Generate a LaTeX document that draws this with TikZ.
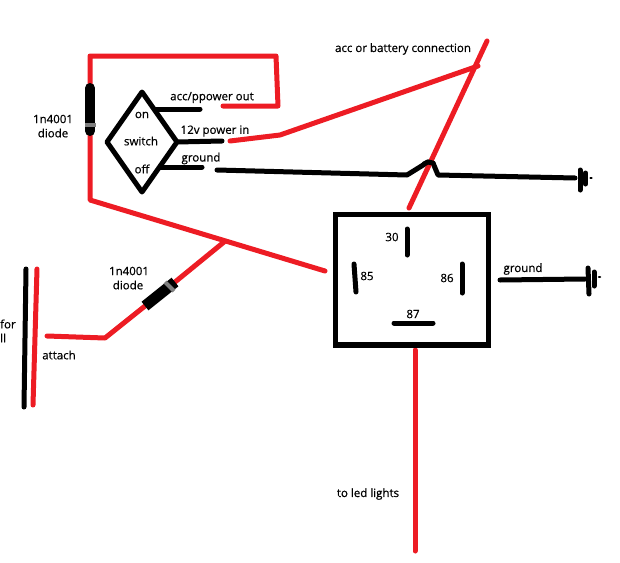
\documentclass[tikz,border=0pt]{standalone}
\usepackage{fontspec}
\setmainfont{Open Sans}[FakeBold=0.6]
\definecolor{wirered}{RGB}{237,28,36}
\definecolor{bandgrey}{RGB}{127,127,127}
\tikzset{
  redwire/.style={draw=wirered,line width=5pt,line cap=round,line join=round},
  blackwire/.style={draw=black,line width=5pt,line cap=round,line join=round},
  frame/.style={draw=black,line width=5.5pt,line cap=round,line join=miter},
  diodebody/.style={draw=black,line width=10pt,line cap=round},
  diodeband/.style={draw=bandgrey,line width=4pt},
  lbl/.style={font=\fontsize{11.5pt}{13pt}\selectfont,inner sep=0pt,text=black}
}
\begin{document}
\begin{tikzpicture}[x=1pt,y=-1pt]
\useasboundingbox (0,0) rectangle (620,562);
% junction and corner points
\coordinate (dtopA) at (90,88);
\coordinate (dbotA) at (90,131);
\coordinate (bandA1) at (85,125);
\coordinate (bandA2) at (96,125);
\coordinate (tl) at (90,56);
\coordinate (tr) at (276,56);
\coordinate (trb) at (278,106);
\coordinate (onend) at (223,106);
\coordinate (blw) at (90,200);
\coordinate (coil) at (325,271);
\coordinate (tee) at (224,242);
\coordinate (dtopB) at (175,282);
\coordinate (dbotB) at (145,306);
\coordinate (bandB1) at (165,282);
\coordinate (bandB2) at (174,291);
\coordinate (bend) at (105,338);
\coordinate (att) at (47,336);
\coordinate (sT) at (142,92);
\coordinate (sR) at (177,142);
\coordinate (sB) at (142,192);
\coordinate (sL) at (107,142);
\coordinate (onA) at (155,109);
\coordinate (onB) at (200,109);
\coordinate (inB) at (222,141);
\coordinate (offA) at (160,167);
\coordinate (offB) at (202,167);
\coordinate (pwrA) at (230,141);
\coordinate (pwrB) at (280,135);
\coordinate (bat) at (478,66);
\coordinate (batT) at (487,41);
\coordinate (batB) at (409,208);
\coordinate (g1) at (217,170);
\coordinate (g2) at (407,175);
\coordinate (g3) at (428,162);
\coordinate (g4) at (433,163);
\coordinate (g5) at (438,175);
\coordinate (g6) at (575,178);
\coordinate (ledT) at (415,350);
\coordinate (ledB) at (415,551);
\coordinate (rg1) at (500,280);
\coordinate (rg2) at (585,279);
% harness wires
\draw[blackwire] (26,269) -- (24,407);
\draw[redwire] (37,269) -- (33,405);
% black ground wire with hump
\draw[blackwire] (g1) -- (g2) -- (g3) -- (g4) -- (g5) -- (g6);
% red wires
\draw[redwire] (dtopA) -- (tl) -- (tr) -- (trb) -- (onend);
\draw[redwire] (dbotA) -- (blw) -- (coil);
\draw[redwire] (tee) -- (dtopB);
\draw[redwire] (dbotB) -- (bend) -- (att);
\draw[redwire] (pwrA) -- (pwrB) -- (bat);
\draw[redwire] (batT) -- (batB);
\draw[redwire] (ledT) -- (ledB);
\draw[blackwire] (424,164) -- (g3) -- (g4);
% diodes
\draw[diodebody] (dtopA) -- (dbotA);
\draw[diodeband] (bandA1) -- (bandA2);
\draw[diodebody,line width=11pt,line cap=butt] (dbotB) -- (dtopB);
\draw[diodeband] (bandB1) -- (bandB2);
% switch
\draw[frame,line join=round,line width=5pt] (sT) -- (sR) -- (sB) -- (sL) -- cycle;
\draw[blackwire] (onA) -- (onB);
\draw[blackwire] (sR) -- (inB);
\draw[blackwire] (offA) -- (offB);
% relay
\draw[frame] (335.5,214.5) rectangle (488.5,345);
\draw[blackwire] (407,229) -- (407,255);
\draw[blackwire] (354,264) -- (356,292);
\draw[blackwire] (462,264) -- (462,293);
\draw[blackwire] (394,323) -- (433,323);
\draw[blackwire] (rg1) -- (rg2);
% ground symbols
\draw[blackwire] (580,170) -- (580,190);
\draw[blackwire,line width=5pt] (585.5,173) -- (585.5,184);
\draw[blackwire,line width=2.5pt] (590.5,178) -- (591.5,178);
\draw[blackwire] (588,268) -- (589,294);
\draw[blackwire,line width=5pt] (594,272) -- (594,286);
\draw[blackwire,line width=2.5pt] (599,277) -- (600,277);
% labels
\node[lbl] (l1) at (53,119) {1n4001};
\node[lbl] (l2) at (53,133) {diode};
\node[lbl] (l3) at (142,115) {on};
\node[lbl] (l4) at (141,141) {switch};
\node[lbl] (l5) at (142,169) {off};
\node[lbl] (l6) at (212,97.5) {acc/ppower out};
\node[lbl] (l7) at (215,131) {12v power in};
\node[lbl] (l8) at (201,158.5) {ground};
\node[lbl] (l9) at (403,49) {acc or battery connection};
\node[lbl] (l10) at (392,237) {30};
\node[lbl] (l11) at (367,276) {85};
\node[lbl] (l12) at (447,278) {86};
\node[lbl] (l13) at (413,314) {87};
\node[lbl] (l14) at (523,269) {ground};
\node[lbl] (l15) at (129,271) {1n4001};
\node[lbl] (l16) at (128,285) {diode};
\node[lbl] (l17) at (59,355) {attach};
\node[lbl] (l18) at (368,494) {to led lights};
\node[lbl,anchor=west] (l19) at (0,324) {for};
\node[lbl,anchor=west] (l20) at (0,338) {ll};
\end{tikzpicture}
\end{document}
